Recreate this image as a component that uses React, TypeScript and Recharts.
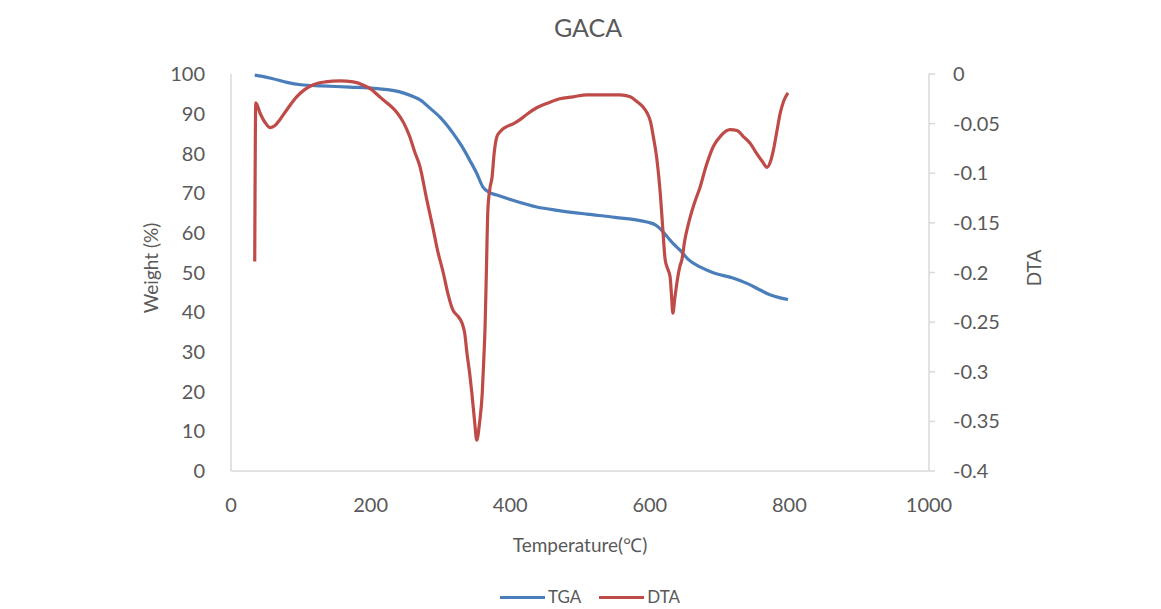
import React from 'react';
import { LineChart, Line, XAxis, YAxis } from 'recharts';

const tgaTemp = [34, 45, 60, 80, 100, 130, 170, 210, 242, 260, 271, 285, 300, 318, 330, 342, 352, 361, 370, 381, 400, 438, 470, 510, 550, 596, 608, 615, 625, 635, 643, 655, 672, 690, 719, 740, 758, 772, 787, 798];
const tgaWeight = [99.7, 99.4, 98.8, 97.9, 97.3, 97.0, 96.7, 96.3, 95.5, 94.4, 93.5, 91.4, 89.0, 85.1, 82.0, 78.3, 75.0, 71.5, 70.2, 69.5, 68.4, 66.5, 65.6, 64.7, 63.9, 62.7, 62.0, 61.0, 59.0, 57.0, 55.7, 53.3, 51.4, 50.0, 48.6, 47.2, 45.6, 44.4, 43.6, 43.2];

const dtaTemp = [34, 35.5, 42, 50, 56, 63, 70, 80, 94, 105, 117, 135, 156, 175, 189, 200, 213, 225, 238, 248, 256, 263, 271, 280, 289, 296, 304, 311, 318, 325, 331, 335, 338, 342, 345, 349, 352, 356, 360, 362, 364, 366, 368, 371, 374, 377, 381, 387, 395, 405, 414, 425, 438, 455, 471, 490, 510, 530, 557, 572, 582, 590, 596, 601, 605, 610, 615, 619, 622, 626, 629, 631, 633, 636, 640, 643, 646, 650, 655, 663, 672, 681, 691, 702, 715, 725, 734, 744, 753, 761, 768, 773, 777, 782, 787, 792, 798];
const dtaValue = [-0.189, -0.029, -0.040, -0.050, -0.054, -0.052, -0.046, -0.036, -0.023, -0.016, -0.011, -0.008, -0.007, -0.008, -0.011, -0.015, -0.023, -0.030, -0.039, -0.050, -0.063, -0.078, -0.094, -0.125, -0.154, -0.178, -0.200, -0.222, -0.238, -0.244, -0.251, -0.262, -0.281, -0.302, -0.321, -0.350, -0.369, -0.352, -0.321, -0.290, -0.255, -0.195, -0.137, -0.115, -0.104, -0.080, -0.063, -0.057, -0.053, -0.050, -0.046, -0.040, -0.034, -0.029, -0.025, -0.023, -0.021, -0.021, -0.021, -0.023, -0.028, -0.033, -0.039, -0.048, -0.063, -0.085, -0.120, -0.160, -0.187, -0.197, -0.204, -0.222, -0.241, -0.225, -0.205, -0.194, -0.187, -0.168, -0.152, -0.132, -0.114, -0.092, -0.073, -0.062, -0.056, -0.057, -0.063, -0.070, -0.080, -0.088, -0.094, -0.088, -0.077, -0.058, -0.039, -0.027, -0.019];

const xTicks = [0, 200, 400, 600, 800, 1000];
const weightTicks = [0, 10, 20, 30, 40, 50, 60, 70, 80, 90, 100];
const dtaTicks = [-0.4, -0.35, -0.3, -0.25, -0.2, -0.15, -0.1, -0.05, 0];

const seriesNames = ['TGA', 'DTA'];
const seriesColors = ['#4a7ebb', '#be4b48'];

const tgaData = tgaTemp.map((t, i) => ({ t, tga: tgaWeight[i] }));
const dtaData = dtaTemp.map((t, i) => ({ t, dta: dtaValue[i] }));

const FONT = 'Lato, "Open Sans", sans-serif';
const TEXT = '#595959';
const AXIS = '#d9d9d9';

const tickStyle = { fill: TEXT, fontSize: 20, fontFamily: FONT };

export default function App() {
  return (
    <div style={{ position: 'absolute', left: 0, top: 0, width: 1161, height: 609, background: '#fff', fontFamily: FONT, overflow: 'hidden' }}>
      <LineChart width={1161} height={609} margin={{ top: 74, right: 0, bottom: 108, left: 0 }}>
        <XAxis
          type="number"
          dataKey="t"
          domain={[0, 1000]}
          ticks={xTicks}
          interval={0}
          height={30}
          tickLine={false}
          tickSize={0}
          tickMargin={27}
          axisLine={{ stroke: AXIS, strokeWidth: 1.5 }}
          tick={tickStyle}
          allowDuplicatedCategory={false}
        />
        <YAxis
          yAxisId="w"
          orientation="left"
          width={231}
          domain={[0, 100]}
          ticks={weightTicks}
          interval={0}
          tickLine={false}
          tickSize={0}
          tickMargin={26}
          axisLine={{ stroke: AXIS, strokeWidth: 1.5 }}
          tick={tickStyle}
        />
        <YAxis
          yAxisId="d"
          orientation="right"
          width={232}
          domain={[-0.4, 0]}
          ticks={dtaTicks}
          interval={0}
          tickLine={{ stroke: AXIS, strokeWidth: 1.5 }}
          tickSize={6}
          tickMargin={18}
          axisLine={{ stroke: AXIS, strokeWidth: 1.5 }}
          tick={tickStyle}
        />
        <Line
          yAxisId="w"
          data={tgaData}
          dataKey="tga"
          name={seriesNames[0]}
          type="monotone"
          stroke={seriesColors[0]}
          strokeWidth={3.2}
          dot={false}
          activeDot={false}
          isAnimationActive={false}
        />
        <Line
          yAxisId="d"
          data={dtaData}
          dataKey="dta"
          name={seriesNames[1]}
          type="monotone"
          stroke={seriesColors[1]}
          strokeWidth={3.2}
          dot={false}
          activeDot={false}
          isAnimationActive={false}
        />
      </LineChart>

      <div style={{ position: 'absolute', left: 588, top: 27, transform: 'translate(-50%, -50%)', fontSize: 25, color: TEXT, whiteSpace: 'nowrap' }}>GACA</div>
      <div style={{ position: 'absolute', left: 150, top: 268, transform: 'translate(-50%, -50%) rotate(-90deg)', fontSize: 19, color: TEXT, whiteSpace: 'nowrap' }}>Weight (%)</div>
      <div style={{ position: 'absolute', left: 1033, top: 268, transform: 'translate(-50%, -50%) rotate(-90deg)', fontSize: 19, color: TEXT, whiteSpace: 'nowrap' }}>DTA</div>
      <div style={{ position: 'absolute', left: 580, top: 545, transform: 'translate(-50%, -50%)', fontSize: 19, color: TEXT, whiteSpace: 'nowrap' }}>Temperature(℃)</div>

      <div style={{ position: 'absolute', left: 500, top: 587, display: 'flex', alignItems: 'center', fontSize: 17, lineHeight: '20px', color: TEXT, whiteSpace: 'nowrap', height: 20 }}>
        {seriesNames.map((n, i) => (
          <div key={n} style={{ display: 'flex', alignItems: 'center', marginRight: i === 0 ? 18 : 0 }}>
            <div style={{ width: 45, height: 3, background: seriesColors[i], marginRight: 3 }} />
            <span>{n}</span>
          </div>
        ))}
      </div>
    </div>
  );
}
